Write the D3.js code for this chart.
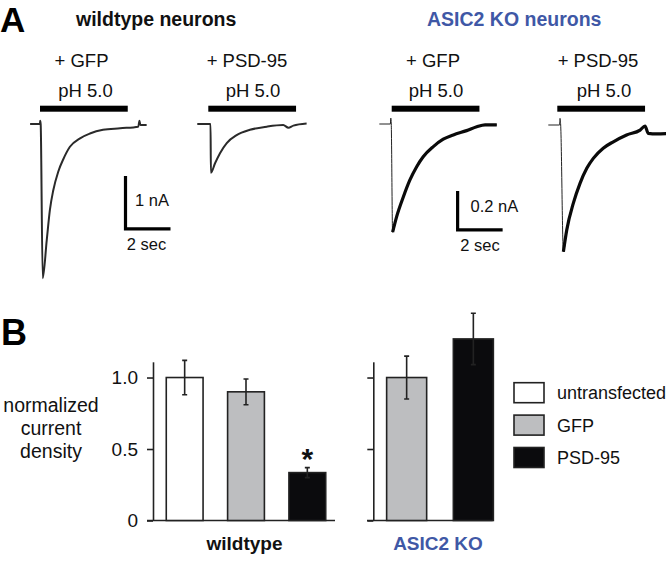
<!DOCTYPE html>
<html><head><meta charset="utf-8">
<script src="https://cdn.jsdelivr.net/npm/d3@7"></script>
<style>
html,body{margin:0;padding:0;background:#fff;overflow:hidden}
svg{display:block;font-family:"Liberation Sans",Arial,Helvetica,sans-serif}
</style></head>
<body><svg id="c" width="666" height="561"></svg>
<script>
// ---------- DATA ----------
// Panel A traces (time in s relative to pH step, current in nA)
const wtGfpT = [-0.44, 0, 0.005, 0.03, 0.12, 0.30, 0.44, 0.59, 0.81, 1.04, 1.33, 1.78, 2.22, 2.80, 3.56, 4.37, 4.42, 4.46, 4.74];
const wtGfpI = [0, 0, 0.06, 0, -2.91, -2.19, -1.62, -1.25, -0.90, -0.66, -0.43, -0.27, -0.18, -0.11, -0.08, -0.05, 0.06, -0.02, -0.02];
const wtPsdT = [-0.49, 0.10, 0.115, 0.30, 0.52, 0.82, 1.26, 1.85, 2.60, 3.33, 3.56, 3.78, 4.37];
const wtPsdI = [0, 0, -0.92, -0.74, -0.55, -0.36, -0.21, -0.11, -0.05, -0.02, -0.07, -0.03, 0.01];
const koGfpT = [-0.55, -0.06, -0.04, -0.02, 0.04, 0.22, 0.52, 0.81, 1.11, 1.40, 1.85, 2.29, 2.74, 3.33, 3.78, 4.15, 4.67];
const koGfpI = [0, 0, 0.03, 0, -0.555, -0.475, -0.373, -0.287, -0.219, -0.168, -0.116, -0.078, -0.056, -0.034, -0.014, -0.004, -0.005];
const koPsdT = [-0.40, 0.10, 0.12, 0.15, 0.27, 0.42, 0.71, 1.01, 1.31, 1.60, 2.04, 2.49, 3.08, 3.68, 3.90, 4.04, 4.42, 4.98];
const koPsdI = [0, 0, 0.034, 0, -0.650, -0.538, -0.402, -0.299, -0.222, -0.171, -0.119, -0.086, -0.051, -0.026, -0.005, -0.043, -0.046, -0.043];
const phDuration = 3.9;          // s
const traceLabels = ["+ GFP", "+ PSD-95", "+ GFP", "+ PSD-95"];
const phLabel = "pH 5.0";

// Panel B bars
const wtCats = ["untransfected", "GFP", "PSD-95"];
const wtMeans = [1.0, 0.90, 0.335];
const wtErr = [0.12, 0.09, 0.035];
const koCats = ["GFP", "PSD-95"];
const koMeans = [1.0, 1.27];
const koErr = [0.15, 0.18];
const yTicks = [0, 0.5, 1.0];
const yTickLabels = ["0", "0.5", "1.0"];
const legendCats = ["untransfected", "GFP", "PSD-95"];

// ---------- STYLE ----------
const BLUE = "#3f58a6";
const fills = {"untransfected": "#ffffff", "GFP": "#bdbec0", "PSD-95": "#0b0b0d"};
const svg = d3.select("#c");
const FONT = '"Liberation Sans",Arial,Helvetica,sans-serif';

// ---------- PANEL A ----------
svg.append("text").attr("x", 0).attr("y", 32).attr("font-size", 35).attr("font-weight", "bold").text("A");
svg.append("text").attr("x", 76).attr("y", 26).attr("font-size", 19.5).attr("font-weight", "bold").attr("fill", "#111").text("wildtype neurons");
svg.append("text").attr("x", 427).attr("y", 26).attr("font-size", 19.5).attr("font-weight", "bold").attr("fill", BLUE).text("ASIC2 KO neurons");

const panels = [
  {T: wtGfpT, I: wtGfpI, x0: 40,    y0: 124, pxPerS: 22.5, pxPerNA: 53,  noisy: false, lab: 0, labX: 81.5, phX: 85.5},
  {T: wtPsdT, I: wtPsdI, x0: 208.3, y0: 124, pxPerS: 22.5, pxPerNA: 53,  noisy: false, lab: 1, labX: 247,  phX: 253},
  {T: koGfpT, I: koGfpI, x0: 391.7, y0: 124, pxPerS: 22.5, pxPerNA: 195, noisy: true,  lab: 2, labX: 433,  phX: 436},
  {T: koPsdT, I: koPsdI, x0: 557.3, y0: 125, pxPerS: 22.5, pxPerNA: 195, noisy: true,  lab: 3, labX: 598,  phX: 604}
];

panels.forEach(p => {
  const xs = d3.scaleLinear().domain([0, 1]).range([p.x0, p.x0 + p.pxPerS]);
  const ys = d3.scaleLinear().domain([0, -1]).range([p.y0, p.y0 + p.pxPerNA]);
  const g = svg.append("g");
  g.append("text").attr("x", p.labX).attr("y", 67).attr("text-anchor", "middle").attr("font-size", 18.5).attr("fill", "#111").text(traceLabels[p.lab]);
  g.append("text").attr("x", p.phX).attr("y", 97).attr("text-anchor", "middle").attr("font-size", 18.5).attr("fill", "#111").text(phLabel);
  g.append("rect").attr("x", xs(0)).attr("y", 105.7).attr("width", xs(phDuration) - xs(0)).attr("height", 6).attr("fill", "#000");
  const pts = p.T.map((t, i) => [t, p.I[i]]);
  const line = d3.line().x(d => xs(d[0])).y(d => ys(d[1])).curve(d3.curveMonotoneX);
  if (!p.noisy) {
    g.append("path").attr("d", line(pts)).attr("fill", "none").attr("stroke", "#2a2a2a").attr("stroke-width", 2).attr("stroke-linejoin", "round");
  } else {
    let mi = 0;
    p.I.forEach((v, i) => { if (v < p.I[mi]) mi = i; });
    g.append("path").attr("d", line(pts)).attr("fill", "none").attr("stroke", "#222").attr("stroke-width", 1);
    g.append("path").attr("d", line(pts.slice(0, mi - 3))).attr("fill", "none").attr("stroke", "#0a0a0a").attr("stroke-width", 3.6);
    g.append("path").attr("d", line(pts.slice(mi))).attr("fill", "none").attr("stroke", "#0a0a0a").attr("stroke-width", 3.2);
  }
});

// scale bars
function scaleBar(x, yTop, yBot, xEnd, vLab, vLabX, vLabY, hLabX, hLabY) {
  svg.append("path").attr("d", `M${x},${yTop}V${yBot}H${xEnd}`).attr("fill", "none").attr("stroke", "#000").attr("stroke-width", 3.2);
  svg.append("text").attr("x", vLabX).attr("y", vLabY).attr("font-size", 16.5).attr("fill", "#111").text(vLab);
  svg.append("text").attr("x", hLabX).attr("y", hLabY).attr("text-anchor", "middle").attr("font-size", 16.5).attr("fill", "#111").text("2 sec");
}
{
  const xs = d3.scaleLinear().domain([0, 1]).range([40, 62.5]);
  const ys = d3.scaleLinear().domain([0, -1]).range([124, 177]);
  scaleBar(xs(3.8), ys(-0.98), ys(-1.98), xs(5.8), "1 nA", 135, 206, 146.5, 250);
  const xk = d3.scaleLinear().domain([0, 1]).range([391.7, 414.2]);
  const yk = d3.scaleLinear().domain([0, -1]).range([124, 319]);
  scaleBar(xk(2.93), yk(-0.343), yk(-0.543), xk(4.93), "0.2 nA", 470.5, 212, 480, 251);
}

// ---------- PANEL B ----------
svg.append("text").attr("x", 1).attr("y", 344.5).attr("font-size", 36).attr("font-weight", "bold").text("B");

const y = d3.scaleLinear().domain([0, 1.11]).range([520.5, 361.8]);

// y label
const yl = svg.append("text").attr("text-anchor", "middle").attr("font-size", 19.5).attr("fill", "#111");
["normalized", "current", "density"].forEach((s, i) => yl.append("tspan").attr("x", 51).attr("y", 412 + i * 23).text(s));

function drawGroup(cats, means, errs, axisX, baseL, baseR, bandRange, showLabels, groupLabel, labelX, labelColor) {
  const g = svg.append("g");
  const ax = d3.axisLeft(y).tickValues(yTicks).tickSize(6).tickSizeOuter(0).tickPadding(9)
    .tickFormat((d, i) => showLabels ? yTickLabels[i] : "");
  const axg = g.append("g").attr("transform", `translate(${axisX},0)`).call(ax);
  axg.select(".domain").attr("stroke", "#222").attr("stroke-width", 1.6);
  axg.selectAll(".tick line").attr("stroke", "#222").attr("stroke-width", 1.6);
  axg.selectAll(".tick text").attr("font-size", 19).attr("font-family", FONT).attr("fill", "#111");
  g.append("line").attr("x1", baseL).attr("x2", baseR).attr("y1", y(0)).attr("y2", y(0)).attr("stroke", "#222").attr("stroke-width", 1.6);

  const x = d3.scaleBand().domain(cats).range(bandRange).paddingInner(0.4).paddingOuter(0.2);
  cats.forEach((c, i) => {
    g.append("rect").attr("x", x(c)).attr("y", y(means[i])).attr("width", x.bandwidth()).attr("height", y(0) - y(means[i]))
      .attr("fill", fills[c]).attr("stroke", "#222").attr("stroke-width", 1.6);
    const cx = x(c) + x.bandwidth() / 2;
    const hi = y(means[i] + errs[i]), lo = y(means[i] - errs[i]);
    g.append("path").attr("d", `M${cx},${hi}V${lo}M${cx - 2.5},${hi}H${cx + 2.5}M${cx - 2.5},${lo}H${cx + 2.5}`)
      .attr("stroke", "#222").attr("stroke-width", 1.6).attr("fill", "none");
  });
  g.append("text").attr("x", labelX).attr("y", 550).attr("text-anchor", "middle").attr("font-size", 19)
    .attr("font-weight", "bold").attr("fill", labelColor).text(groupLabel);
  return x;
}

const xw = drawGroup(wtCats, wtMeans, wtErr, 153, 147, 335, [154, 338], true, "wildtype", 244.5, "#111");
drawGroup(koCats, koMeans, koErr, 373.3, 367, 492.7, [373.3, 506.7], false, "ASIC2 KO", 438, BLUE);

// significance asterisk
svg.append("text").attr("x", xw("PSD-95") + xw.bandwidth() / 2).attr("y", y(wtMeans[2] + wtErr[2]) + 1)
  .attr("text-anchor", "middle").attr("font-size", 30).attr("font-weight", "bold").attr("fill", "#111").text("*");

// legend
legendCats.forEach((c, i) => {
  const yy = 382.7 + i * 32.4;
  svg.append("rect").attr("x", 514).attr("y", yy).attr("width", 30).attr("height", 20)
    .attr("fill", fills[c]).attr("stroke", "#222").attr("stroke-width", 1.6);
  svg.append("text").attr("x", 557).attr("y", yy + 16.5).attr("font-size", 18).attr("fill", "#111").text(c);
});
</script></body></html>
